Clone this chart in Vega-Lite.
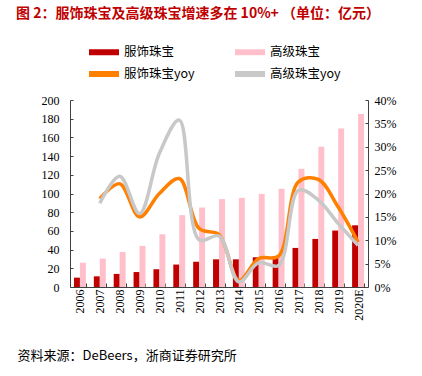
{
  "$schema": "https://vega.github.io/schema/vega-lite/v6.json",
  "width": 298,
  "height": 187,
  "autosize": {"type": "none"},
  "padding": {"left": 70, "top": 100, "right": 54, "bottom": 89},
  "background": "white",
  "title": {
    "text": "图 2：服饰珠宝及高级珠宝增速多在 10%+ （单位：亿元）",
    "anchor": "start",
    "frame": "group",
    "dx": -54,
    "font": "Noto Sans CJK SC",
    "fontSize": 14,
    "fontWeight": "bold",
    "color": "#C00000",
    "offset": 16
  },
  "config": {
    "view": {"stroke": null},
    "axis": {"labelFont": "Liberation Serif, Times New Roman, serif", "labelFontSize": 12, "labelColor": "#000000", "domainColor": "#404040", "tickColor": "#404040", "grid": false, "labelOverlap": false}
  },
  "datasets": {
    "amount": [
      {"year": "2006", "series": "服饰珠宝", "value": 10},
      {"year": "2007", "series": "服饰珠宝", "value": 11.4},
      {"year": "2008", "series": "服饰珠宝", "value": 14},
      {"year": "2009", "series": "服饰珠宝", "value": 16},
      {"year": "2010", "series": "服饰珠宝", "value": 19},
      {"year": "2011", "series": "服饰珠宝", "value": 24},
      {"year": "2012", "series": "服饰珠宝", "value": 27},
      {"year": "2013", "series": "服饰珠宝", "value": 29.6},
      {"year": "2014", "series": "服饰珠宝", "value": 29.6},
      {"year": "2015", "series": "服饰珠宝", "value": 31.8},
      {"year": "2016", "series": "服饰珠宝", "value": 33},
      {"year": "2017", "series": "服饰珠宝", "value": 41.8},
      {"year": "2018", "series": "服饰珠宝", "value": 51.4},
      {"year": "2019", "series": "服饰珠宝", "value": 60.4},
      {"year": "2020E", "series": "服饰珠宝", "value": 66},
      {"year": "2006", "series": "高级珠宝", "value": 26},
      {"year": "2007", "series": "高级珠宝", "value": 30.4},
      {"year": "2008", "series": "高级珠宝", "value": 37.5},
      {"year": "2009", "series": "高级珠宝", "value": 44},
      {"year": "2010", "series": "高级珠宝", "value": 56.4},
      {"year": "2011", "series": "高级珠宝", "value": 76.8},
      {"year": "2012", "series": "高级珠宝", "value": 85},
      {"year": "2013", "series": "高级珠宝", "value": 94},
      {"year": "2014", "series": "高级珠宝", "value": 95.4},
      {"year": "2015", "series": "高级珠宝", "value": 99.6},
      {"year": "2016", "series": "高级珠宝", "value": 105},
      {"year": "2017", "series": "高级珠宝", "value": 126.4},
      {"year": "2018", "series": "高级珠宝", "value": 150},
      {"year": "2019", "series": "高级珠宝", "value": 169.6},
      {"year": "2020E", "series": "高级珠宝", "value": 185}
    ],
    "yoy": [
      {"year": "2007", "series": "服饰珠宝yoy", "value": 0.189},
      {"year": "2008", "series": "服饰珠宝yoy", "value": 0.221},
      {"year": "2009", "series": "服饰珠宝yoy", "value": 0.15},
      {"year": "2010", "series": "服饰珠宝yoy", "value": 0.2},
      {"year": "2011", "series": "服饰珠宝yoy", "value": 0.232},
      {"year": "2012", "series": "服饰珠宝yoy", "value": 0.125},
      {"year": "2013", "series": "服饰珠宝yoy", "value": 0.112},
      {"year": "2014", "series": "服饰珠宝yoy", "value": 0.014},
      {"year": "2015", "series": "服饰珠宝yoy", "value": 0.061},
      {"year": "2016", "series": "服饰珠宝yoy", "value": 0.066},
      {"year": "2017", "series": "服饰珠宝yoy", "value": 0.225},
      {"year": "2018", "series": "服饰珠宝yoy", "value": 0.23},
      {"year": "2019", "series": "服饰珠宝yoy", "value": 0.171},
      {"year": "2020E", "series": "服饰珠宝yoy", "value": 0.096},
      {"year": "2007", "series": "高级珠宝yoy", "value": 0.179},
      {"year": "2008", "series": "高级珠宝yoy", "value": 0.237},
      {"year": "2009", "series": "高级珠宝yoy", "value": 0.157},
      {"year": "2010", "series": "高级珠宝yoy", "value": 0.286},
      {"year": "2011", "series": "高级珠宝yoy", "value": 0.357},
      {"year": "2012", "series": "高级珠宝yoy", "value": 0.101},
      {"year": "2013", "series": "高级珠宝yoy", "value": 0.109},
      {"year": "2014", "series": "高级珠宝yoy", "value": 0.011},
      {"year": "2015", "series": "高级珠宝yoy", "value": 0.052},
      {"year": "2016", "series": "高级珠宝yoy", "value": 0.046},
      {"year": "2017", "series": "高级珠宝yoy", "value": 0.207},
      {"year": "2018", "series": "高级珠宝yoy", "value": 0.186},
      {"year": "2019", "series": "高级珠宝yoy", "value": 0.136},
      {"year": "2020E", "series": "高级珠宝yoy", "value": 0.089}
    ]
  },
  "encoding": {
    "x": {
      "field": "year",
      "type": "ordinal",
      "scale": {"paddingInner": 0.4, "paddingOuter": 0.2},
      "axis": {
        "labelAngle": -90,
        "labelPadding": 6,
        "tickSize": -4,
        "tickBand": "extent",
        "title": "资料来源：DeBeers，浙商证券研究所",
        "titleFont": "Noto Sans CJK SC",
        "titleFontSize": 13,
        "titleFontWeight": "normal",
        "titleColor": "#000000",
        "titleAnchor": "start",
        "titleAlign": "left",
        "titleBaseline": "middle",
        "titleX": -53,
        "titleY": 68
      }
    }
  },
  "layer": [
    {
      "data": {"name": "amount"},
      "mark": {"type": "bar"},
      "encoding": {
        "xOffset": {"field": "series", "type": "nominal", "sort": ["服饰珠宝", "高级珠宝"]},
        "y": {
          "field": "value",
          "type": "quantitative",
          "scale": {"domain": [0, 200]},
          "axis": {"title": null, "values": [0,20,40,60,80,100,120,140,160,180,200], "tickSize": -3, "labelPadding": 14, "orient": "left"}
        },
        "color": {
          "field": "series",
          "type": "nominal",
          "scale": {
            "domain": ["服饰珠宝", "服饰珠宝yoy", "高级珠宝", "高级珠宝yoy"],
            "range": ["#C00000", "#FF7F00", "#FFC0CB", "#C8C8C8"]
          },
          "legend": {
            "orient": "none",
            "legendX": 19,
            "legendY": -63,
            "columns": 2,
            "title": null,
            "symbolType": "M-1,-0.2L1,-0.2L1,0.2L-1,0.2Z",
            "symbolSize": 900,
            "symbolStrokeWidth": 0,
            "labelFont": "Noto Sans CJK SC",
            "labelFontSize": 12.5,
            "labelColor": "#000000",
            "labelOffset": 5,
            "columnPadding": 40,
            "rowPadding": -7
          }
        }
      }
    },
    {
      "data": {"name": "yoy"},
      "mark": {"type": "line", "interpolate": "catmull-rom", "strokeWidth": 3.5},
      "encoding": {
        "y": {
          "field": "value",
          "type": "quantitative",
          "scale": {"domain": [0, 0.4]},
          "axis": {"title": null, "orient": "right", "format": ".0%", "values": [0,0.05,0.1,0.15,0.2,0.25,0.3,0.35,0.4], "tickSize": -3, "labelPadding": 9}
        },
        "color": {"field": "series", "type": "nominal"},
        "detail": {"field": "series"}
      }
    }
  ],
  "resolve": {"scale": {"y": "independent"}}
}
